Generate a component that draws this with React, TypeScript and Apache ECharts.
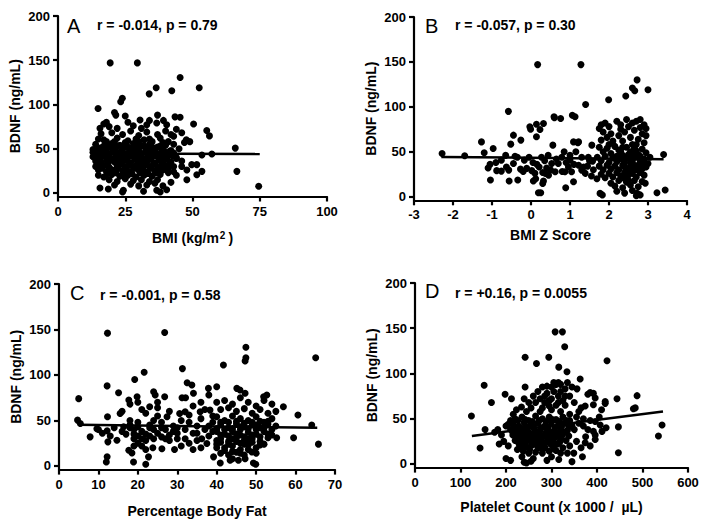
import React, { useEffect, useRef } from 'react';
import * as echarts from 'echarts';

const FONT = '"Liberation Sans", Arial, Helvetica, sans-serif';

// ---------- data (BDNF ng/mL vs predictor) ----------
const bmiPoints: number[][] = [
  [19.4,147],[29.5,147],[45.4,130.5],[52.5,119],[36.5,119],[42.3,115.5],[33.9,112],[23.9,107],[23.3,103],[14.9,95.5],
  [21,91],[21.5,88],[25,87],[37,88],[43.5,86],[45.4,85.5],[50.4,78],[55.3,70.5],[56.3,64.5],[65.9,50.7],
  [66.5,24.4],[74.6,7.5],[57.2,44],[53.5,43],[49,58],[47.7,60],[47.9,26],[47.9,15],[51.6,32],[51.6,20.6],
  [53.5,24.4],[49.7,32],[15.6,5.6],[18.7,4.5],[24.3,3],[24,1],[31.8,1.9],[36.7,3],[38,1],[40.4,3.7],
  [40.4,77],[39.2,82],[36.7,79],[33,77],[30.5,82.5],[18,80],[15.6,73],[17,78],[19,75],[22,73],
  [26,80],[28,76],[31,73],[34,82],[44,72],[42,66],[46,68],[47,57],[45,50],[44,40],
  [46,36],[46,30],[44,20],[42,12],[43,24],[41,28],
  [16,67],[20,68],[24,66],[27,70],[30,65],[33,69],[37,66],[40,70],[43,64],
  [15,61],[18,58],[22,62],[26,59],[29,61],[32,60],[35,58],[38,62],[41,58],
  [14,55],[17,53],[20,56],[23,54],[26,52],[28,56],[31,53],[34,55],[37,52],[40,54],[43,55],
  [13,49],[15,50],[18,48],[21,51],[24,49],[27,50],[30,48],[33,51],[36,49],[39,50],[42,48],
  [13,46],[14,44],[16,46],[19,44],[22,46],[25,44],[28,46],[31,44],[34,46],[37,44],[40,46],[43,45],
  [13,41],[15,40],[17,42],[20,39],[23,41],[26,40],[29,42],[32,39],[35,41],[38,40],[41,42],[44,39],
  [14,36],[16,34],[18,37],[21,35],[24,36],[27,34],[30,36],[33,35],[36,34],[39,36],[42,35],
  [14,30],[17,31],[19,29],[22,31],[25,30],[28,29],[31,31],[34,30],[37,29],[40,31],[43,30],
  [15,26],[18,24],[21,26],[24,25],[27,24],[30,26],[33,24],[36,25],[39,26],[41,23],
  [15,20],[17,18],[20,21],[23,19],[26,20],[29,18],[32,20],[35,19],[38,21],
  [19,15],[22,13],[25,16],[28,14],[31,15],[34,13],[37,15],
  [21,9],[27,10],[30,8],[33,9],[36,11],[39,8],
  [14.5,47],[17.5,47],[20.5,47],[23.5,47],[26.5,47],[29.5,47],[32.5,47],[35.5,47],[38.5,47],[41.5,47],
  [14.5,42],[18.5,42],[21.5,42],[24.5,42],[27.5,42],[30.5,42],[33.5,42],[36.5,42],[39.5,42],[42.5,42],
  [15.5,38],[19.5,37],[22.5,38],[25.5,37],[28.5,38],[31.5,37],[34.5,38],[37.5,37],[40.5,38],
  [15.5,33],[18.5,32],[23.5,33],[26.5,32],[29.5,33],[32.5,32],[35.5,33],[38.5,32],[41.5,33],
  [16.5,28],[19.5,27],[22.5,28],[25.5,27],[28.5,28],[31.5,27],[34.5,28],[37.5,27],
  [18.5,22],[21.5,23],[24.5,22],[27.5,22],[30.5,23],[33.5,22],[36.5,23],
  [16,51],[19,52],[22,53],[25,52],[29,52],[32,53],[35,52],[38,53],
  [17,60],[21,58],[25,57],[30,58],[34,61],[39,57],
];

const zPoints: number[][] = [
  [0.17,147],[1.28,147],[2.72,130],[2.6,121],[2.66,118],[3.0,119],[2.43,112],[1.99,108],[1.4,102.6],[-0.58,95],
  [0.59,89],[0.76,87],[1.06,90.7],[1.13,89],[-0.03,77.8],[-0.01,75],[0.14,80.7],[0.32,81.5],[0.23,74.8],[-0.45,68.5],
  [0.14,66.7],[-0.26,63],[-1.27,61],[0.56,57.4],[1.09,61],[1.22,61],[1.56,57.4],[-2.28,48],[-1.7,45.5],[-1.2,49],
  [-0.97,53.7],[-1.05,36],[-1.04,18.5],[-0.88,29],[-0.76,28.5],[-0.76,40.7],[-0.63,33],[-0.57,29.6],[-0.56,17.4],[-0.34,18.5],
  [-0.52,58.5],[-0.41,45],[-0.27,30.7],[-0.17,40.7],[-0.11,31.5],[0.02,29],[0.06,17.4],[0.19,4.4],[0.25,4.4],[0.3,14.8],
  [0.32,17.4],[0.36,26],[0.21,33],[0.27,44],[0.44,46],[0.53,37],[0.62,27.8],[0.7,37],[0.79,44],[0.87,27.8],
  [0.89,10],[1.0,40.7],[0.96,33],[1.04,27.8],[1.09,16.7],[1.22,35],[1.3,29.6],[1.39,26],[1.47,44],[1.58,39.6],
  [1.69,20],[1.77,3.7],[1.83,2],[3.23,4.4],[3.44,7.4],[3.4,47],[2.93,15],[2.72,3.7],[2.8,2],
  [0.6,88],[1.2,60],[1.0,46],[1.15,50],[1.3,44],[1.5,40],[1.35,33],[1.6,30],[1.1,36],[0.9,38],
  [0.4,32],[0.45,24],[0.5,30],[0.65,42],[0.35,40],[0.15,36],[-0.05,44],[0.05,38],[0.1,26],[0.12,20],
  [-0.2,28],[-0.35,44],[-0.45,37],[-0.9,38],[-0.65,46],[-1.1,32],[0.3,27],[0.8,28],[0.85,50],[1.45,34],[1.55,23],
  [1.8,80],[1.9,82],[2.0,78],[2.05,70],[1.85,72],[1.95,66],[2.2,84],[2.3,80],[2.45,86],[2.5,78],
  [2.6,82],[2.7,84],[2.8,86],[2.9,80],[2.95,76],[2.85,70],[2.65,74],[2.4,72],[2.25,68],[2.1,62],
  [1.8,63],[2.35,62],[2.55,66],[2.75,64],[2.95,68],[2.9,60],[2.6,58],[2.0,58],[2.8,77],[2.3,75],[1.75,76],
  [1.75,55],[1.85,50],[1.95,54],[2.05,48],[2.15,56],[2.25,52],[2.35,46],[2.45,55],[2.55,50],[2.65,54],[2.75,47],[2.85,53],[2.95,49],[3.05,44],
  [1.7,44],[1.8,40],[1.9,45],[2.0,38],[2.1,43],[2.2,39],[2.3,42],[2.4,38],[2.5,43],[2.6,40],[2.7,44],[2.8,39],[2.9,42],[3.0,37],
  [1.75,34],[1.85,30],[1.95,35],[2.05,31],[2.15,34],[2.25,30],[2.35,35],[2.45,31],[2.55,34],[2.65,30],[2.75,35],[2.85,31],[2.95,33],
  [1.8,25],[1.9,21],[2.0,26],[2.1,22],[2.2,27],[2.3,23],[2.4,27],[2.5,24],[2.6,26],[2.7,22],[2.8,27],[2.9,24],
  [2.05,15],[2.15,12],[2.25,18],[2.35,10],[2.45,16],[2.55,13],[2.65,18],[2.75,11],[2.85,17],[2.2,6],[2.4,4],[2.6,7],[2.7,1],
  [2.45,44],[2.55,38],[2.6,47],[2.5,29],[2.4,20],[2.65,35],[2.35,55],[2.7,58],
  [2.3,50],[2.5,47],[2.7,51],[2.4,33],[2.6,32],[2.8,45],[2.5,18],[2.7,30],[2.2,45],[2.9,36],
];

const fatPoints: number[][] = [
  [12.3,146],[26.8,146.7],[47.4,130.5],[47.4,119],[47.2,115.4],[65.1,119],[41.7,111],[31.3,107],[21.6,103],[19.2,95],
  [12.2,88],[32.5,91.5],[33.7,89],[40,87],[45.1,85.3],[45.9,83.5],[47.2,80],[5.0,74],[15.1,80.5],[19.8,76],
  [17.7,72.4],[24,81.6],[24.4,78],[26.8,76],[31.2,75],[32.1,75],[34.1,80],[37.9,85.3],[52.7,78],[51.9,76],
  [56.9,65],[59.5,31],[55.2,31],[60.6,56],[64.1,45],[65.8,24],[4.7,50.4],[5.4,46.7],[7.9,32],[9.6,41],
  [12.2,38.6],[12.4,26.5],[12.2,10],[12,4.4],[12.3,54],[14.7,28.3],[15.5,57.7],[16.4,43],[17.7,17.3],[18.5,14.3],
  [18.9,4.4],[22,1.8],[22.7,10],[23.8,20],[26.1,19],[29.3,18],[27.4,54],[30.6,57.7],[32,59.6],[35.8,59.6],
  [36.2,30],[37.5,24.6],[38.3,61.4],[39.2,10],[40.9,3.3],[43.4,6.3],[45.5,6.3],[47.2,8],[49.3,3.3],[49.9,1.8],[48.9,15.4],
  [16,60],[18,68],[20,70],[21,62],[22,58],[23,65],[25,70],[24,50],[26,48],[20,48],
  [18,45],[19,40],[21,38],[23,42],[25,36],[27,40],[28,34],[17,35],[19,30],[20,33],
  [22,28],[24,30],[26,32],[28,28],[21,22],[22,18],[20,25],[23,45],[25,55],[29,44],
  [29,38],[30,30],[18,50],[16,38],[14,42],[10,40],[11,36],[13,33],[19,22],[27,30],[30,42],[31,50],[28,60],[25,64],
  [32,40],[33,48],[34,36],[35,44],[36,52],[37,40],[38,33],[39,48],[35,28],[33,25],
  [31,22],[34,18],[36,20],[38,44],[39,55],[37,62],[34,66],[36,70],[38,78],[33,56],
  [35,36],[32,30],[30,36],[39,38],[40,28],[40,20],
  [40,70],[42,72],[44,68],[46,75],[48,70],[50,66],[52,72],[54,68],
  [41,62],[43,64],[45,60],[47,63],[49,58],[51,62],[53,58],[55,60],
  [40,54],[42,50],[44,55],[46,52],[48,50],[50,54],[52,48],[54,52],
  [41,45],[43,42],[45,46],[47,43],[49,45],[51,42],[53,46],[55,44],
  [40,38],[42,35],[44,38],[46,34],[48,37],[50,35],[52,38],[54,34],
  [41,30],[43,27],[45,31],[47,28],[49,30],[51,27],[53,31],
  [40,24],[42,20],[44,22],[46,18],[48,23],[50,20],[52,24],
  [41,14],[43,12],[45,15],[47,12],[44,8],[42,40],[46,40],[48,30],[50,45],[44,30],[46,25],
  [41,48],[43,48],[45,49],[47,47],[49,48],[51,49],[53,49],
  [40,41],[44,41],[46,43],[48,41],[50,40],[52,42],[54,40],
  [41,34],[43,33],[45,35],[47,32],[49,34],[51,32],[53,35],
  [41,26],[43,24],[45,27],[47,24],[49,26],[51,23],
  [42,17],[44,16],[46,14],[48,18],[50,14],
  [18,42],[20,43],[22,35],[24,40],[26,42],[21,30],[23,33],[19,35],
];

const plateletPoints: number[][] = [
  [308,146],[324,146],[329,129.6],[422,114],[316,107],[334,102],[363,94],[242,118],[267,111],[294,118],
  [152,87],[198,77],[212,72],[168,68],[242,85],[124,53],[154,38],[143,17.7],[216,55],[234,63],
  [223,60],[444,72],[488,75.5],[480,61],[484,62],[418,67],[418,69],[543,43],[535,31],[447,41],
  [447,12.5],[392,78],[385,79],[396,73],[392,65.5],[380,77],[356,83],[330,83],[374,64],[365,62],
  [360,58],[396,47],[407,43],[392,36],[396,32],[374,23.5],[396,27],[411,36],[349,12],[345,2.6],
  [316,5],[420,40],[405,52],[410,60],
  [300,85],[310,88],[290,86],[320,80],[285,75],[295,70],[275,72],[340,75],[350,68],[330,65],
  [310,65],[265,68],[255,62],[245,58],[280,62],[300,60],[320,58],[340,55],[355,52],[370,50],
  [385,48],[370,42],[380,38],[360,45],[375,30],[385,20],[365,18],[355,25],[368,8],[335,12],
  [325,18],[310,15],[300,8],[290,4],[280,12],[270,18],[260,6],[250,12],[240,2],[245,1],
  [255,3],[235,8],[225,16],[210,4],[200,6],[205,20],[195,25],[185,22],[182,38],[190,32],
  [175,35],[200,42],[210,48],[215,35],
  [220,50],[235,52],[250,48],[265,53],[280,50],[295,52],[310,49],[325,52],[340,48],
  [205,44],[215,45],[228,42],[240,46],[255,43],[270,45],[285,42],[300,46],[315,43],[330,45],[345,42],
  [210,38],[222,37],[236,39],[248,36],[262,39],[275,37],[290,39],[305,36],[320,39],[335,37],[350,38],
  [215,32],[228,31],[242,33],[255,30],[268,32],[282,31],[296,33],[310,30],[324,32],[338,31],
  [220,26],[234,25],[248,27],[262,24],[276,26],[290,25],[304,27],[318,24],[332,26],
  [230,20],[245,19],[258,21],[272,20],[286,18],[300,21],[314,22],[340,20],
  [238,14],[265,13],[295,14],[320,12],
  [212,47],[226,48],[242,49],[258,47],[273,48],[288,47],[302,49],[318,47],[333,48],
  [218,41],[232,40],[245,41],[260,41],[278,40],[293,41],[308,40],[322,41],[338,41],
  [218,35],[232,34],[245,35],[260,34],[273,35],[287,34],[300,35],[314,34],[328,35],
  [222,29],[236,28],[250,29],[264,28],[278,29],[292,28],[306,29],[320,28],
  [228,23],[242,22],[256,23],[268,22],[282,23],[296,23],[310,22],
  [235,17],[252,16],[280,16],[305,17],
  [270,80],[280,85],[290,78],[305,80],[315,75],[325,70],[285,68],[300,72],[315,90],[305,90],
  [320,88],[275,58],[295,64],[315,68],[330,75],[345,85],[335,90],[260,75],[250,68],[240,72],
];

// regression lines (end points)
const fitBmi = [[13, 44.6], [75, 44.0]];
const fitZ = [[-2.3, 44.3], [3.4, 41.7]];
const fitFat = [[5, 45.3], [65.5, 42.0]];
const fitPlatelet = [[125, 31], [545, 58]];

const yTicks = [0, 50, 100, 150, 200];
const panelLetters = ['A', 'B', 'C', 'D'];
const statTexts = ['r = -0.014, p = 0.79', 'r = -0.057, p = 0.30', 'r = -0.001, p = 0.58', 'r = +0.16, p = 0.0055'];
const xNames = ['BMI (kg/m{sup|2})', 'BMI Z Score', 'Percentage Body Fat', 'Platelet Count (x 1000 /  \u00B5L)'];
const xRanges = [
  { min: 0, max: 100, interval: 25 },
  { min: -3, max: 4, interval: 1 },
  { min: 0, max: 70, interval: 10 },
  { min: 0, max: 600, interval: 100 },
];

export default function App() {
  const ref = useRef<HTMLDivElement>(null);
  useEffect(() => {
    const chart = echarts.init(ref.current!, null, { renderer: 'svg' });
    const grids = [
      { left: 58, top: 16, width: 269, height: 180.5 },
      { left: 414, top: 17, width: 273, height: 183.3 },
      { left: 59, top: 284, width: 276, height: 185.6 },
      { left: 415, top: 283, width: 273, height: 184.6 },
    ];
    const lineStyle = { color: '#000', width: 2.2 };
    const labelStyle = { color: '#000', fontFamily: FONT, fontWeight: 'bold' as const, fontSize: 13 };
    const nameStyle = {
      color: '#000', fontFamily: FONT, fontWeight: 'bold' as const, fontSize: 14,
      rich: {
        sup: { color: '#000', fontFamily: FONT, fontWeight: 'bold', fontSize: 10, verticalAlign: 'top', lineHeight: 10, padding: [0, 3, 0, 1] },
      },
    };
    const pointSets = [bmiPoints, zPoints, fatPoints, plateletPoints];
    const fits = [fitBmi, fitZ, fitFat, fitPlatelet];
    const letterPos = [[67, 26], [425, 26], [70, 293], [425, 291]];
    const statPos = [[97, 25], [455, 25], [100, 295], [455, 293]];
    const xNameGap = [34, 28, 34, 32];

    const series: any[] = [];
    pointSets.forEach((pts, i) => {
      series.push({
        type: 'scatter', xAxisIndex: i, yAxisIndex: i, data: pts,
        symbol: 'circle', symbolSize: 7, itemStyle: { color: '#000', opacity: 1 }, z: 2,
      });
      series.push({
        type: 'line', xAxisIndex: i, yAxisIndex: i, data: fits[i],
        showSymbol: false, symbol: 'none', lineStyle: { color: '#000', width: 2.5 }, z: 3,
      });
    });

    const graphic: any[] = [];
    panelLetters.forEach((l, i) => {
      graphic.push({
        type: 'text', x: letterPos[i][0], y: letterPos[i][1],
        style: { text: l, fontFamily: FONT, fontSize: 20, fill: '#000', verticalAlign: 'middle', align: 'left' },
      });
      graphic.push({
        type: 'text', x: statPos[i][0], y: statPos[i][1],
        style: { text: statTexts[i], fontFamily: FONT, fontSize: 14, fontWeight: 'bold', fill: '#000', verticalAlign: 'middle', align: 'left' },
      });
    });

    chart.setOption({
      animation: false,
      backgroundColor: '#fff',
      grid: grids.map((g) => ({ ...g, containLabel: false })),
      xAxis: xRanges.map((r, i) => ({
        type: 'value', gridIndex: i, min: r.min, max: r.max, interval: r.interval,
        name: xNames[i], nameLocation: 'middle', nameGap: xNameGap[i], nameTextStyle: nameStyle,
        axisLine: { show: true, onZero: false, lineStyle },
        axisTick: { show: true, inside: false, length: 5, lineStyle },
        axisLabel: { ...labelStyle, margin: 8 },
        splitLine: { show: false },
      })),
      yAxis: grids.map((_, i) => ({
        type: 'value', gridIndex: i, min: -4, max: 200,
        name: 'BDNF (ng/mL)', nameLocation: 'middle', nameGap: 36, nameTextStyle: nameStyle,
        axisLine: { show: true, onZero: false, lineStyle },
        axisTick: { show: true, inside: false, length: 5, lineStyle, customValues: yTicks },
        axisLabel: { ...labelStyle, margin: 8, customValues: yTicks },
        splitLine: { show: false },
      })),
      series,
      graphic,
    });
    return () => chart.dispose();
  }, []);
  return <div ref={ref} style={{ position: 'absolute', left: 0, top: 0, width: 709, height: 521 }} />;
}
